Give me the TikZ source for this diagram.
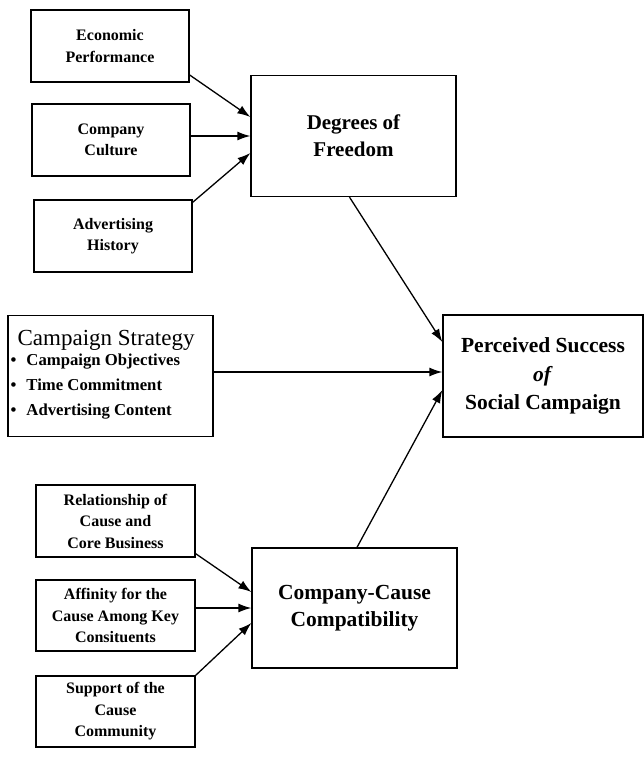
\documentclass[tikz,border=0pt]{standalone}
\usepackage{fontspec}
\setmainfont{Liberation Serif}
\usetikzlibrary{arrows.meta}
\begin{document}
\begin{tikzpicture}
      [x=1pt,y=-1pt,line width=1.3pt,
      arr/.style={-{Latex[length=13pt,width=9pt]}},
      small box/.style={rectangle,draw,align=center,inner sep=2pt,
        minimum width=158pt,minimum height=72pt,
        font=\fontsize{16}{21.5}\selectfont\bfseries},
      big box/.style={rectangle,draw,align=center,inner sep=2pt,
        minimum width=205pt,minimum height=121pt,
        font=\fontsize{21.5}{27}\selectfont\bfseries}]
      \useasboundingbox (0,0) rectangle (644,779);
      \node[small box] (eco) at (110,46) {Economic\\Performance};
      \node[small box] (cul) at (111,140) {Company\\Culture};
      \node[small box] (his) at (113,236) {Advertising\\History};
      \node[big box,font=\fontsize{21}{27}\selectfont\bfseries] (dof) at (353.5,136) {Degrees of\\Freedom};
      \node[big box] (str) at (110.5,376) {};
      \node[anchor=north west,align=left,inner sep=0pt,
        font=\fontsize{16.7}{25}\selectfont\bfseries] (strtxt) at (10,330)
        {{\mdseries\fontsize{23}{25}\selectfont\hspace*{7pt}Campaign Strategy}\\[-5pt]
         \textbullet\hspace{10pt}Campaign Objectives\\
         \textbullet\hspace{10pt}Time Commitment\\
         \textbullet\hspace{10pt}Advertising Content};
      \node[big box,minimum width=200pt,minimum height=122pt,
        font=\fontsize{21.5}{28.5}\selectfont\bfseries] (per) at (543,376)
        {Perceived Success\\\textit{of}\\Social Campaign};
      \node[small box,minimum width=159pt] (rel) at (115.5,521) {Relationship of\\Cause and\\Core Business};
      \node[small box,minimum width=159pt,minimum height=71pt] (aff) at (115.5,615.5) {Affinity for the\\Cause Among Key\\Consituents};
      \node[small box,minimum width=159pt,minimum height=71pt] (sup) at (115.5,711.5) {Support of the\\Cause\\Community};
      \node[big box,minimum height=120pt] (com) at (354.5,608) {Company-Cause\\Compatibility};
      \path (eco.-20) edge[arr] ([yshift=19pt]dof.west);
      \path (cul.east |- dof.west) edge[arr] (dof.west);
      \path ([yshift=-3pt]his.north east) edge[arr] ([yshift=-17pt]dof.west);
      \path ([xshift=-4pt]dof.south) edge[arr] ([yshift=34pt]per.west);
      \path ([yshift=4pt]str.east) edge[arr] ([yshift=4pt]per.west);
      \path ([xshift=2.5pt]com.north) edge[arr] ([yshift=-14pt]per.west);
      \path ([yshift=4pt]rel.south east) edge[arr] ([yshift=16pt]com.west);
      \path (aff.east |- com.west) edge[arr] (com.west);
      \path (sup.north east) edge[arr] ([yshift=-15pt]com.west);
    \end{tikzpicture}
\end{document}
